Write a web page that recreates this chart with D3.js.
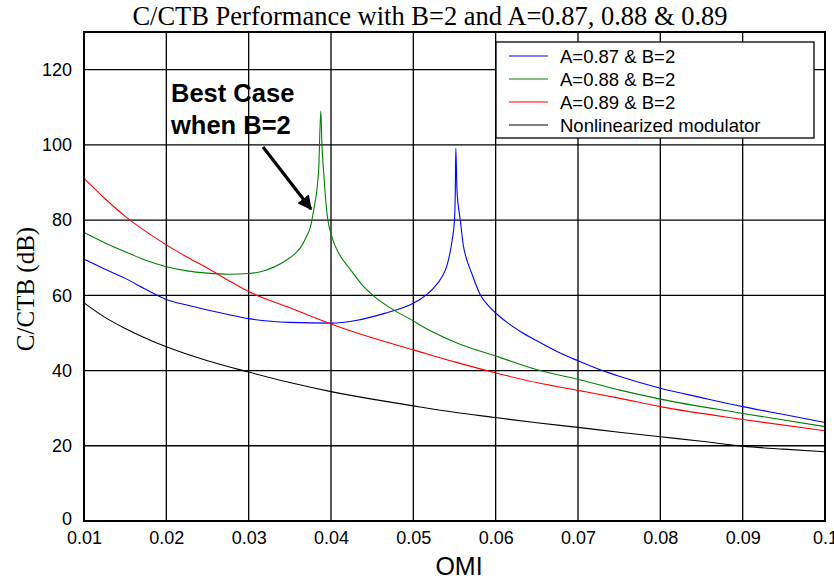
<!DOCTYPE html>
<html>
<head>
<meta charset="utf-8">
<script src="https://cdn.jsdelivr.net/npm/d3@7"></script>
<style>
  body { margin: 0; background: #fff; }
  svg { display: block; }
</style>
</head>
<body>
<div id="chart"></div>
<script>
const width = 834, height = 581;

// data: [OMI, C/CTB dB]
const blueA087 = [[0.010,69.6],[0.0125,67.0],[0.015,64.5],[0.0175,61.6],[0.020,58.9],[0.0225,57.4],[0.025,56.1],[0.0275,54.9],[0.030,53.8],[0.035,52.8],[0.040,52.6],[0.043,53.3],[0.0465,55.2],[0.050,57.9],[0.0508,58.9],[0.0524,61.8],[0.0535,65],[0.0541,68.0],[0.0547,74.5],[0.0550,80],[0.0551,88],[0.05516,99.1],[0.0553,88],[0.0557,80],[0.0561,72.9],[0.0565,69.4],[0.0571,65.8],[0.0581,60.3],[0.0590,57.5],[0.0602,54.9],[0.0615,52.6],[0.063,50.4],[0.065,47.9],[0.0675,45.0],[0.070,42.6],[0.0727,40.2],[0.0751,38.4],[0.0775,36.8],[0.080,35.3],[0.085,32.8],[0.090,30.4],[0.095,28.3],[0.100,26.2]];

const greenA088 = [[0.010,76.7],[0.0125,74.0],[0.015,71.6],[0.0175,69.3],[0.020,67.6],[0.0225,66.5],[0.025,65.9],[0.0275,65.6],[0.030,65.8],[0.032,66.6],[0.0342,68.8],[0.0355,70.8],[0.0362,72.4],[0.0370,75.5],[0.0375,78.2],[0.0379,82.7],[0.0385,93.3],[0.03876,109],[0.0389,100],[0.0391,93],[0.0395,82],[0.0401,75.6],[0.0410,71],[0.0423,67],[0.0437,63],[0.0452,59.8],[0.048,55.6],[0.050,53.2],[0.0508,52.1],[0.055,47.6],[0.0605,43.5],[0.0654,40.0],[0.0703,37.5],[0.0751,34.8],[0.080,32.4],[0.090,28.6],[0.100,25.1]];

const redA089 = [[0.010,91.1],[0.0125,85.8],[0.015,81.0],[0.0175,77.0],[0.020,73.4],[0.0225,70.2],[0.025,67.2],[0.0275,64.0],[0.030,61.0],[0.035,56.7],[0.040,52.4],[0.045,48.7],[0.050,45.5],[0.055,42.3],[0.0605,39.1],[0.0654,36.6],[0.0703,34.6],[0.0751,32.6],[0.080,30.4],[0.090,27.0],[0.100,24.0]];

const nonlinear = [[0.010,58.0],[0.0125,54.2],[0.015,51.2],[0.0175,48.6],[0.020,46.3],[0.025,42.6],[0.030,39.6],[0.035,36.8],[0.040,34.4],[0.045,32.4],[0.050,30.6],[0.055,28.9],[0.060,27.5],[0.065,26.1],[0.070,24.9],[0.075,23.6],[0.080,22.4],[0.085,21.2],[0.090,19.9],[0.095,19.1],[0.100,18.4]];

const xTicks = [0.01,0.02,0.03,0.04,0.05,0.06,0.07,0.08,0.09,0.1];
const xTickLabels = ["0.01","0.02","0.03","0.04","0.05","0.06","0.07","0.08","0.09","0.1"];
const yTicks = [0,20,40,60,80,100,120];

const seriesNames = ["A=0.87 & B=2","A=0.88 & B=2","A=0.89 & B=2","Nonlinearized modulator"];
const seriesColors = ["#0000ff","#008000","#ff0000","#000000"];
const seriesData = [blueA087, greenA088, redA089, nonlinear];

const margin = {left: 84, right: 9, top: 32, bottom: 60};

const x = d3.scaleLinear().domain([0.01, 0.1]).range([margin.left, width - margin.right]);
const y = d3.scaleLinear().domain([0, 130]).range([height - margin.bottom, margin.top]);

const svg = d3.select("#chart").append("svg")
    .attr("width", width)
    .attr("height", height);

svg.append("defs").append("marker")
    .attr("id", "arrow")
    .attr("viewBox", "0 0 10 10")
    .attr("refX", 9).attr("refY", 5)
    .attr("markerWidth", 4.5).attr("markerHeight", 4.5)
    .attr("markerUnits", "strokeWidth")
    .attr("orient", "auto")
  .append("path")
    .attr("d", "M0,0L10,5L0,10z")
    .attr("fill", "#000");

// grid
const grid = svg.append("g").attr("stroke", "#000").attr("stroke-width", 1.3);
grid.selectAll("line.vx")
  .data(xTicks.slice(1, -1))
  .join("line")
    .attr("x1", d => x(d)).attr("x2", d => x(d))
    .attr("y1", y(0)).attr("y2", y(130));
grid.selectAll("line.hy")
  .data(yTicks.slice(1))
  .join("line")
    .attr("x1", x(0.01)).attr("x2", x(0.1))
    .attr("y1", d => y(d)).attr("y2", d => y(d));

// curves
const line = d3.line().x(d => x(d[0])).y(d => y(d[1])).curve(d3.curveMonotoneX);
svg.append("g")
  .selectAll("path")
  .data(seriesData)
  .join("path")
    .attr("fill", "none")
    .attr("stroke", (d, i) => seriesColors[i])
    .attr("stroke-width", 1.1)
    .attr("d", line);

// frame
svg.append("rect")
    .attr("x", x(0.01)).attr("y", y(130))
    .attr("width", x(0.1) - x(0.01))
    .attr("height", y(0) - y(130))
    .attr("fill", "none")
    .attr("stroke", "#000")
    .attr("stroke-width", 2);

// axes (labels only, ticks drawn as grid)
const xAxis = d3.axisBottom(x).tickValues(xTicks).tickFormat((d, i) => xTickLabels[i]).tickSize(0).tickPadding(10);
svg.append("g")
    .attr("transform", `translate(0,${y(0)})`)
    .call(xAxis)
    .call(g => g.select(".domain").remove())
    .selectAll("text")
    .attr("font-family", "'Liberation Sans', Arial, sans-serif")
    .attr("font-size", 18)
    .attr("fill", "#000");

const yAxis = d3.axisLeft(y).tickValues(yTicks).tickSize(0).tickPadding(12);
svg.append("g")
    .attr("transform", `translate(${x(0.01)},0)`)
    .call(yAxis)
    .call(g => g.select(".domain").remove())
    .selectAll("text")
    .attr("font-family", "'Liberation Sans', Arial, sans-serif")
    .attr("font-size", 18)
    .attr("fill", "#000")
    .attr("dy", d => d === 0 ? "0.2em" : "0.32em");

// titles
svg.append("text")
    .attr("x", 430).attr("y", 25)
    .attr("text-anchor", "middle")
    .attr("font-family", "'Liberation Serif', 'Times New Roman', serif")
    .attr("font-size", 26.5)
    .text("C/CTB Performance with B=2 and A=0.87, 0.88 & 0.89");

svg.append("text")
    .attr("x", 459).attr("y", 575)
    .attr("text-anchor", "middle")
    .attr("font-family", "'Liberation Sans', Arial, sans-serif")
    .attr("font-size", 25)
    .text("OMI");

svg.append("text")
    .attr("transform", "translate(34,289) rotate(-90)")
    .attr("text-anchor", "middle")
    .attr("font-family", "'Liberation Serif', 'Times New Roman', serif")
    .attr("font-size", 25)
    .text("C/CTB (dB)");

// legend
const legend = svg.append("g");
legend.append("rect")
    .attr("x", 496).attr("y", 42)
    .attr("width", 318).attr("height", 96)
    .attr("fill", "#fff")
    .attr("stroke", "#000")
    .attr("stroke-width", 1.3);
const items = legend.selectAll("g.item")
  .data(seriesNames)
  .join("g")
    .attr("transform", (d, i) => `translate(0,${56 + i * 23})`);
items.append("line")
    .attr("x1", 509).attr("x2", 548)
    .attr("stroke", (d, i) => seriesColors[i])
    .attr("stroke-width", 1.1);
items.append("text")
    .attr("x", 560).attr("y", 6.5)
    .attr("font-family", "'Liberation Sans', Arial, sans-serif")
    .attr("font-size", 18.5)
    .text(d => d);

// annotation
const note = svg.append("text")
    .attr("font-family", "'Liberation Sans', Arial, sans-serif")
    .attr("font-size", 25.5)
    .attr("font-weight", "bold");
note.append("tspan").attr("x", 171).attr("y", 102).text("Best Case");
note.append("tspan").attr("x", 171).attr("y", 134).text("when B=2");

svg.append("line")
    .attr("x1", 263).attr("y1", 147)
    .attr("x2", 311).attr("y2", 209)
    .attr("stroke", "#000")
    .attr("stroke-width", 3.2)
    .attr("marker-end", "url(#arrow)");
</script>
</body>
</html>
